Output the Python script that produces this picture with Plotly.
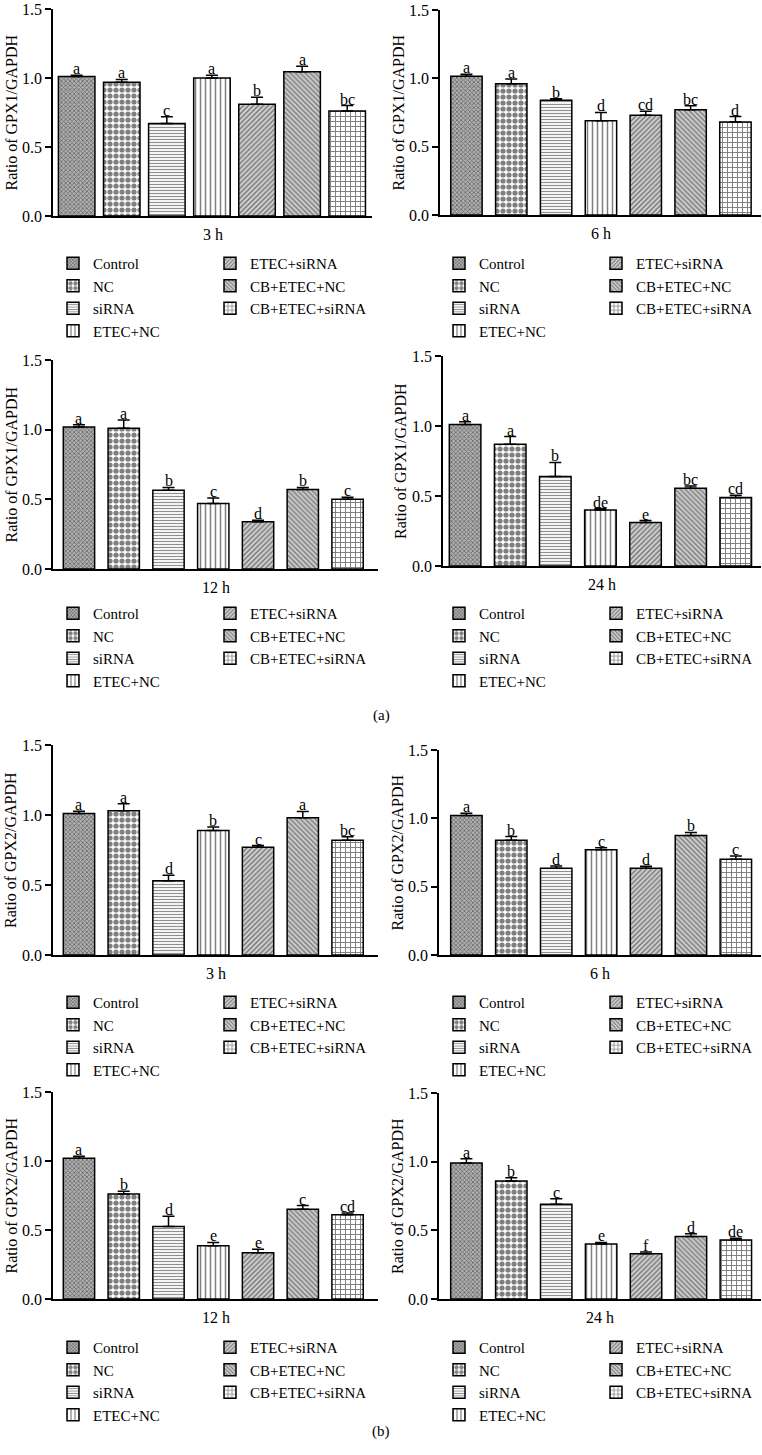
import plotly.graph_objects as go

# ---------------- data ----------------
categories = ["Control", "NC", "siRNA", "ETEC+NC", "ETEC+siRNA", "CB+ETEC+NC", "CB+ETEC+siRNA"]
timepoints = ["3 h", "6 h", "12 h", "24 h"]
genes = ["GPX1", "GPX2"]

gpx1_3h = [1.01, 0.97, 0.67, 1.00, 0.81, 1.045, 0.76]
gpx1_3h_err = [0.01, 0.02, 0.05, 0.02, 0.05, 0.04, 0.04]
gpx1_3h_sig = ["a", "a", "c", "a", "b", "a", "bc"]

gpx1_6h = [1.015, 0.96, 0.84, 0.69, 0.73, 0.77, 0.68]
gpx1_6h_err = [0.015, 0.035, 0.01, 0.06, 0.03, 0.03, 0.04]
gpx1_6h_sig = ["a", "a", "b", "d", "cd", "bc", "d"]

gpx1_12h = [1.02, 1.01, 0.565, 0.47, 0.34, 0.57, 0.50]
gpx1_12h_err = [0.015, 0.06, 0.02, 0.04, 0.01, 0.015, 0.015]
gpx1_12h_sig = ["a", "a", "b", "c", "d", "b", "c"]

gpx1_24h = [1.01, 0.87, 0.64, 0.40, 0.31, 0.555, 0.49]
gpx1_24h_err = [0.02, 0.055, 0.10, 0.01, 0.015, 0.017, 0.015]
gpx1_24h_sig = ["a", "a", "b", "de", "e", "bc", "cd"]

gpx2_3h = [1.01, 1.03, 0.53, 0.89, 0.77, 0.98, 0.82]
gpx2_3h_err = [0.017, 0.05, 0.04, 0.025, 0.012, 0.045, 0.025]
gpx2_3h_sig = ["a", "a", "d", "b", "c", "a", "bc"]

gpx2_6h = [1.02, 0.84, 0.635, 0.77, 0.635, 0.875, 0.70]
gpx2_6h_err = [0.017, 0.027, 0.017, 0.015, 0.015, 0.022, 0.024]
gpx2_6h_sig = ["a", "b", "d", "c", "d", "b", "c"]

gpx2_12h = [1.02, 0.76, 0.525, 0.385, 0.335, 0.65, 0.61]
gpx2_12h_err = [0.015, 0.02, 0.075, 0.025, 0.025, 0.027, 0.013]
gpx2_12h_sig = ["a", "b", "d", "e", "e", "c", "cd"]

gpx2_24h = [0.99, 0.86, 0.69, 0.40, 0.33, 0.455, 0.43]
gpx2_24h_err = [0.032, 0.022, 0.04, 0.012, 0.012, 0.02, 0.012]
gpx2_24h_sig = ["a", "b", "c", "e", "f", "d", "de"]

y_ticks = [0.0, 0.5, 1.0, 1.5]
panel_labels = ["(a)", "(b)"]

panels = [
    ("GPX1", "3 h", gpx1_3h, gpx1_3h_err, gpx1_3h_sig),
    ("GPX1", "6 h", gpx1_6h, gpx1_6h_err, gpx1_6h_sig),
    ("GPX1", "12 h", gpx1_12h, gpx1_12h_err, gpx1_12h_sig),
    ("GPX1", "24 h", gpx1_24h, gpx1_24h_err, gpx1_24h_sig),
    ("GPX2", "3 h", gpx2_3h, gpx2_3h_err, gpx2_3h_sig),
    ("GPX2", "6 h", gpx2_6h, gpx2_6h_err, gpx2_6h_sig),
    ("GPX2", "12 h", gpx2_12h, gpx2_12h_err, gpx2_12h_sig),
    ("GPX2", "24 h", gpx2_24h, gpx2_24h_err, gpx2_24h_sig),
]

# ---------------- styling / layout ----------------
W, H = 762, 1455
FONT = "Liberation Serif"

def px_x(x):
    return x / W

def px_y(y):
    return 1 - y / H

# pixel boxes of each plot area: (x_left, x_right, y_top, y_bottom), x range, bar width
boxes = [
    (53, 372, 9, 216, [-0.525, 6.55], 0.81),
    (440, 761, 10, 215, [-0.59, 6.57], 0.70),
    (53, 378, 360, 569, [-0.58, 6.68], 0.70),
    (443, 761, 356, 566, [-0.49, 6.56], 0.70),
    (53, 378, 745, 955, [-0.58, 6.68], 0.70),
    (439, 761, 750, 955, [-0.61, 6.56], 0.70),
    (53, 378, 1092, 1299, [-0.58, 6.68], 0.70),
    (439, 761, 1093, 1299, [-0.61, 6.56], 0.70),
]
legend_rows = [263, 263, 613, 613, 1002, 1002, 1347, 1347]
legend_cols_left = [95, 252]
legend_cols_right = [481, 638]

patterns = [
    dict(shape="x", size=3, solidity=0.45, fgcolor="#1a1a1a", bgcolor="#b0b0b0"),
    dict(shape=".", size=6, solidity=0.6, fgcolor="black", bgcolor="white"),
    dict(shape="-", size=3, solidity=0.4, fgcolor="#222222", bgcolor="white"),
    dict(shape="|", size=5, solidity=0.3, fgcolor="black", bgcolor="white"),
    dict(shape="/", size=3.5, solidity=0.42, fgcolor="#222222", bgcolor="#d0d0d0"),
    dict(shape="\\", size=3.5, solidity=0.42, fgcolor="#222222", bgcolor="#d0d0d0"),
    dict(shape="+", size=5, solidity=0.35, fgcolor="black", bgcolor="white"),
]

fig = go.Figure()
layout = dict(
    width=W, height=H,
    margin=dict(l=0, r=0, t=0, b=0, autoexpand=False),
    paper_bgcolor="white", plot_bgcolor="white",
    barmode="overlay",
    font=dict(family=FONT, size=16, color="black"),
    annotations=[],
)

for k, (gene, tp, vals, errs, sigs) in enumerate(panels):
    n = k + 1
    xa = "x" if n == 1 else f"x{n}"
    ya = "y" if n == 1 else f"y{n}"
    xl, xr, yt, yb, xrange, bw = boxes[k]
    leg_ids = []
    for c in range(2):
        idx = 2 * k + c + 1
        leg_ids.append("legend" if idx == 1 else f"legend{idx}")
    for i, cat in enumerate(categories):
        fig.add_trace(go.Bar(
            x=[i], y=[vals[i]], width=[bw],
            name=cat,
            xaxis=xa, yaxis=ya,
            legend=leg_ids[0] if i < 4 else leg_ids[1],
            marker=dict(color="white", line=dict(color="black", width=1.5),
                        pattern=patterns[i]),
            error_y=dict(type="data", symmetric=False, array=[errs[i]], arrayminus=[0],
                         color="black", thickness=1.5, width=6),
            hoverinfo="skip",
        ))
        layout["annotations"].append(dict(
            x=i, y=vals[i] + errs[i], xref=xa, yref=ya,
            text=sigs[i], showarrow=False, yanchor="bottom", yshift=-4,
            font=dict(family=FONT, size=16, color="black"),
        ))
    xkey = "xaxis" if n == 1 else f"xaxis{n}"
    ykey = "yaxis" if n == 1 else f"yaxis{n}"
    layout[xkey] = dict(
        domain=[px_x(xl), px_x(xr)], anchor=ya, range=xrange, automargin=False,
        showline=True, linecolor="black", linewidth=1.5,
        showticklabels=False, ticks="", showgrid=False, zeroline=False, fixedrange=True,
    )
    layout[ykey] = dict(
        domain=[px_y(yb), px_y(yt)], anchor=xa, range=[0, 1.5], automargin=False,
        tickvals=y_ticks, ticktext=[f"{v:.1f}" for v in y_ticks],
        ticks="outside", ticklen=6, tickwidth=1.5, tickcolor="black",
        ticklabeloverflow="allow",
        showline=True, linecolor="black", linewidth=1.5,
        showgrid=False, zeroline=False, fixedrange=True,
        tickfont=dict(family=FONT, size=16, color="black"),
    )
    dom = "x domain" if n == 1 else f"x{n} domain"
    ydom = "y domain" if n == 1 else f"y{n} domain"
    layout["annotations"].append(dict(
        x=0.5, y=0, xref=dom, yref=ydom, text=tp, showarrow=False,
        yanchor="top", yshift=-8, font=dict(family=FONT, size=16, color="black"),
    ))
    layout["annotations"].append(dict(
        x=0, y=0.5, xref=dom, yref=ydom, text=f"Ratio of {gene}/GAPDH", showarrow=False,
        textangle=-90, xanchor="center", yanchor="middle", xshift=-42,
        font=dict(family=FONT, size=16, color="black"),
    ))
    cols = legend_cols_left if k % 2 == 0 else legend_cols_right
    for c in range(2):
        layout[leg_ids[c]] = dict(
            x=px_x(cols[c] - 42), y=px_y(legend_rows[k] - 16),
            xanchor="left", yanchor="top", orientation="v",
            bgcolor="rgba(0,0,0,0)", borderwidth=0,
            font=dict(family=FONT, size=15, color="black"),
            itemclick=False, itemdoubleclick=False,
        )

layout["annotations"].append(dict(
    x=px_x(381), y=px_y(715), xref="paper", yref="paper", text=panel_labels[0],
    showarrow=False, font=dict(family=FONT, size=15, color="black"),
))
layout["annotations"].append(dict(
    x=px_x(381), y=px_y(1442), xref="paper", yref="paper", text=panel_labels[1],
    showarrow=False, font=dict(family=FONT, size=15, color="black"),
))

fig.update_layout(**layout)
fig.write_html(
    "out.html",
    config={"displayModeBar": False},
    post_script="document.body.style.margin='0';document.body.style.overflow='hidden';",
)
